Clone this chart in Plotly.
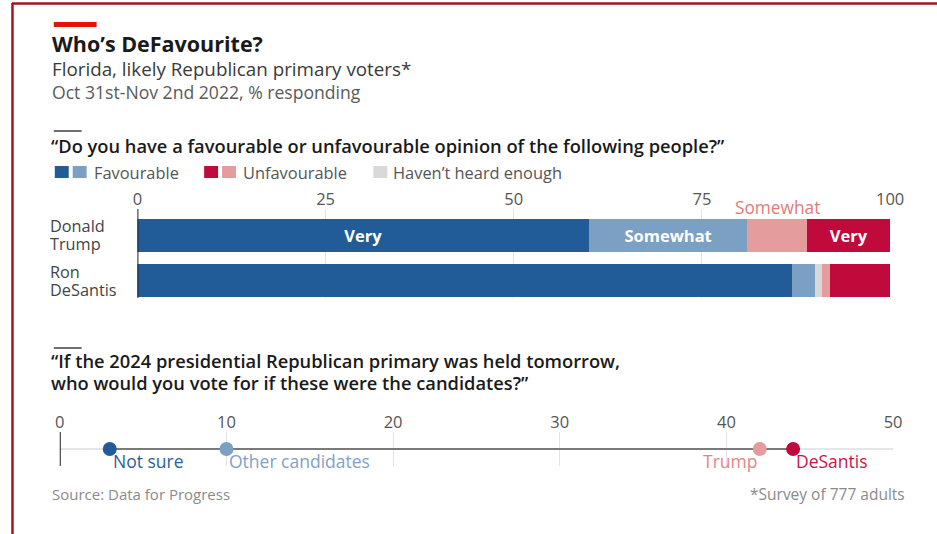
import plotly.graph_objects as go

W, H = 937, 534
# horizontal calibration of the photographed page (measured in earlier runs)
S, O = 0.984, 3.0


def X(ref):
    return (ref - O) / S


def px(ref):
    return X(ref) / W


def py(y):
    return 1 - y / H


# ---------------- data ----------------
people = ["Donald Trump", "Ron DeSantis"]
people_lines = [["Donald", "Trump"], ["Ron", "DeSantis"]]
very_fav = [60, 87]
somewhat_fav = [21, 3]
not_heard = [0, 1]
somewhat_unfav = [8, 1]
very_unfav = [11, 8]
very_fav_text = ["Very", ""]
somewhat_fav_text = ["Somewhat", ""]
very_unfav_text = ["Very", ""]

candidates = ["Not sure", "Other candidates", "Trump", "DeSantis"]
vote_share = [3, 10, 42, 44]

bar_ticks = [0, 25, 50, 75, 100]
dot_ticks = [0, 10, 20, 30, 40, 50]

# ---------------- style ----------------
FONT = "Open Sans"
C_VFAV = "#215c98"
C_SFAV = "#7ba0c4"
C_GREY = "#d9d9d9"
C_SUNF = "#e49c9c"
C_VUNF = "#c10a3c"
TXT = "#1a1a1a"
SUB = "#444444"
MUTED = "#8a8a8a"

fig = go.Figure()

series = [
    ("Very favourable", very_fav, C_VFAV, very_fav_text),
    ("Somewhat favourable", somewhat_fav, C_SFAV, somewhat_fav_text),
    ("Haven't heard enough", not_heard, C_GREY, ["", ""]),
    ("Somewhat unfavourable", somewhat_unfav, C_SUNF, ["", ""]),
    ("Very unfavourable", very_unfav, C_VUNF, very_unfav_text),
]

for name, vals, col, txt in series:
    fig.add_trace(go.Bar(
        x=vals, y=people, orientation="h", name=name,
        marker=dict(color=col, line=dict(width=0)),
        text=txt, textposition="inside", insidetextanchor="middle",
        textfont=dict(family=FONT, size=16.5, color="white", weight="bold"),
        xaxis="x", yaxis="y", showlegend=False, hoverinfo="x+name",
    ))

# dot chart
lo_i = vote_share.index(min(vote_share))
hi_i = vote_share.index(max(vote_share))
fig.add_trace(go.Scatter(
    x=[vote_share[lo_i], vote_share[hi_i]], y=[0, 0], mode="lines",
    line=dict(color="#7a7a7a", width=2.2), xaxis="x2", yaxis="y2",
    showlegend=False, hoverinfo="skip",
))
dot_colors = ["#215c98", "#7ba0c4", "#e49c9c", "#c10a3c"]
label_colors = ["#2a5f99", "#7ea2c8", "#e58587", "#c8144a"]
fig.add_trace(go.Scatter(
    x=vote_share, y=[0] * len(vote_share), mode="markers",
    marker=dict(color=dot_colors, size=14, line=dict(width=0)),
    xaxis="x2", yaxis="y2", showlegend=False, text=candidates,
    hoverinfo="text+x",
))

annotations = []
label_side = ["right", "right", "left", "right"]
for c, v, col, side in zip(candidates, vote_share, label_colors, label_side):
    annotations.append(dict(
        x=v, y=0, xref="x2", yref="y2", text=c, showarrow=False,
        xanchor="left" if side == "right" else "right",
        xshift=1 if side == "right" else -1, yshift=-12, yanchor="middle",
        font=dict(family=FONT, size=17.5, color=col),
    ))

# bar labels (y), one annotation per line for tight leading
for p, lines in zip(people, people_lines):
    for i, line in enumerate(lines):
        annotations.append(dict(
            x=(X(50) - 3) / W, xref="paper", y=p, yref="y", text=line,
            showarrow=False, xanchor="left", yanchor="middle",
            yshift=9 - 18 * i, borderpad=0,
            font=dict(family=FONT, size=16.3, color=SUB),
        ))

# "Somewhat" above Trump's somewhat-unfavourable segment
annotations.append(dict(
    x=very_fav[0] + somewhat_fav[0] + not_heard[0] + somewhat_unfav[0] / 2,
    y=people[0], xref="x", yref="y", yshift=28, text="Somewhat",
    showarrow=False, xanchor="center", yanchor="middle",
    font=dict(family=FONT, size=17.3, color="#e37b7b"),
))


# titles and text
def txt(x, y, s, size, color, weight="normal", xanchor="left"):
    xx = X(x) - 3 if xanchor == "left" else X(x) + 4
    annotations.append(dict(
        x=xx / W, y=py(y), xref="paper", yref="paper", text=s, showarrow=False,
        xanchor=xanchor, yanchor="middle", borderpad=0,
        font=dict(family=FONT, size=size, color=color, weight=weight),
    ))


txt(52, 44, "Who’s DeFavourite?", 21.5, TXT, "bold")
txt(52, 68.5, "Florida, likely Republican primary voters*", 18.8, "#3a3a3a")
txt(52, 91.5, "Oct 31st-Nov 2nd 2022, % responding", 17.6, "#5a5a5a")
txt(51, 145, "“Do you have a favourable or unfavourable opinion of the following people?”", 18.3, TXT, 600)
txt(51, 360, "“If the 2024 presidential Republican primary was held tomorrow,", 18.3, TXT, 600)
txt(51, 382, "who would you vote for if these were the candidates?”", 18.3, TXT, 600)
txt(52, 494, "Source: Data for Progress", 15, MUTED)
txt(904, 494, "*Survey of 777 adults", 15.5, MUTED, xanchor="right")

# legend
txt(94, 172, "Favourable", 16.4, "#555555")
txt(244, 172, "Unfavourable", 16.4, "#555555")
txt(395, 172, "Haven’t heard enough", 16.4, "#555555")

shapes = []


def rect(x0, y0, x1, y1, col):
    shapes.append(dict(type="rect", xref="paper", yref="paper",
                       x0=px(x0), x1=px(x1), y0=py(y1), y1=py(y0),
                       fillcolor=col, line=dict(width=0), layer="above"))


def hline(x0, x1, y, col, w):
    shapes.append(dict(type="line", xref="paper", yref="paper",
                       x0=px(x0), x1=px(x1), y0=py(y), y1=py(y),
                       line=dict(color=col, width=w)))


rect(53, 166, 67, 178, C_VFAV)
rect(71, 166, 85, 178, C_SFAV)
rect(203, 166, 217, 178, C_VUNF)
rect(221, 166, 235, 178, C_SUNF)
rect(373, 166, 387, 178, C_GREY)

# header decorations
rect(52, 22, 95, 27, "#e3120b")
hline(52, 80, 131, "#222222", 1.3)
hline(52, 80, 348, "#222222", 1.3)
# frame
hline(10, 960, 3.5, "#a3151c", 2.5)
shapes.append(dict(type="line", xref="paper", yref="paper",
                   x0=px(10.5), x1=px(10.5), y0=0, y1=py(3),
                   line=dict(color="#a3151c", width=2.5)))

# zero lines
shapes.append(dict(type="line", xref="x", yref="y domain", x0=0, x1=0,
                   y0=0, y1=1, line=dict(color="#222222", width=2), layer="above"))
shapes.append(dict(type="line", xref="x2", yref="y2 domain", x0=0, x1=0,
                   y0=0, y1=1, line=dict(color="#222222", width=2)))
# light baseline for dot chart
shapes.append(dict(type="line", xref="x2 domain", yref="y2", x0=0, x1=1,
                   y0=0, y1=0, line=dict(color="#e6e6e6", width=2), layer="below"))

fig.update_layout(
    width=W, height=H, autosize=False, margin=dict(l=0, r=0, t=0, b=0, pad=0),
    paper_bgcolor="white", plot_bgcolor="rgba(0,0,0,0)",
    barmode="stack", bargap=0.27,
    font=dict(family=FONT, color="#555555"),
    xaxis=dict(
        domain=[px(136), px(892)], range=[0, 100], side="top",
        tickvals=bar_ticks, ticks="", showgrid=True, gridcolor="#e3e3e3",
        gridwidth=1, zeroline=False, showline=False,
        tickfont=dict(family=FONT, size=16.5, color="#555555"), anchor="y",
    ),
    yaxis=dict(
        domain=[py(298), py(209)], range=[1.378, -0.578], type="category",
        showticklabels=False, showgrid=False, zeroline=False, anchor="x",
        categoryorder="array", categoryarray=people,
    ),
    xaxis2=dict(
        domain=[px(58), px(895)], range=[0, 50], side="top",
        tickvals=dot_ticks, ticks="", showgrid=True, gridcolor="#e3e3e3",
        gridwidth=1, zeroline=False, showline=False,
        tickfont=dict(family=FONT, size=16.5, color="#555555"), anchor="y2",
    ),
    yaxis2=dict(
        domain=[py(466), py(432)], range=[-1, 1], showticklabels=False,
        showgrid=False, zeroline=False, anchor="x2",
    ),
    annotations=annotations,
    shapes=shapes,
)

fig.write_html("out.html", config={"displayModeBar": False, "responsive": False},
               post_script="document.body.style.margin='0';document.body.style.overflow='hidden';")
